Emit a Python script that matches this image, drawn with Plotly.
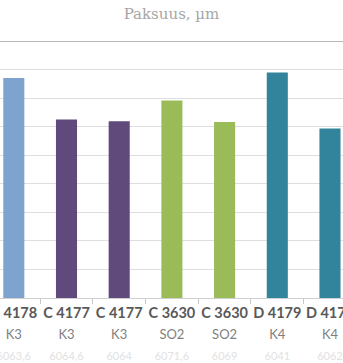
import plotly.graph_objects as go

# Sample codes, coating classes and thickness values (µm)
samples = ["C 4178", "C 4177", "C 4177", "C 3630", "C 3630", "D 4179", "D 4179"]
classes = ["K3", "K3", "K3", "SO2", "SO2", "K4", "K4"]
sample_ids = ["6063,6", "6064,6", "6064", "6071,6", "6069", "6041", "6062"]
thickness = [77.0, 62.5, 61.9, 69.2, 61.6, 79.0, 59.4]
bar_colors = ["#7ea3cf", "#604a7b", "#604a7b", "#9bbb59", "#9bbb59", "#31849b", "#31849b"]

keys = [f"{s} {c} #{i}" for i, (s, c) in enumerate(zip(samples, classes))]
tick_text = [
    f"<span style='font-size:14.5px'><b>{s}</b></span>"
    f"<br><span style='font-size:13px;color:#7f7f7f'>{c}</span>"
    f"<br><span style='font-size:11px;color:#e2e2e2'>{n}</span>"
    for s, c, n in zip(samples, classes, sample_ids)
]

fig = go.Figure(
    go.Bar(
        x=keys,
        y=thickness,
        marker=dict(color=bar_colors, line=dict(width=0)),
        width=0.4,
    )
)

fig.update_layout(
    width=343,
    height=363,
    margin=dict(l=0, r=0, t=41, b=65, autoexpand=False),
    paper_bgcolor="white",
    plot_bgcolor="white",
    showlegend=False,
    title=dict(
        text="Paksuus, µm",
        x=0.5,
        xanchor="center",
        y=0.962,
        yanchor="middle",
        font=dict(family="DejaVu Serif", size=15, color="#a6a6a6"),
    ),
    font=dict(family="Lato", color="#595959"),
    bargap=0.6,
)

fig.update_xaxes(
    type="category",
    range=[-0.262, 6.247],
    tickmode="array",
    tickvals=keys,
    ticktext=tick_text,
    tickangle=0,
    automargin=False,
    tickfont=dict(family="Lato", size=16, color="#595959"),
    ticks="outside",
    tickson="boundaries",
    ticklen=5,
    tickcolor="#c8c8c8",
    showline=True,
    linecolor="#d0d0d0",
    linewidth=1,
    showgrid=False,
    fixedrange=True,
)

fig.update_yaxes(
    range=[0, 90],
    dtick=10,
    showticklabels=False,
    showgrid=True,
    gridcolor="#dedede",
    gridwidth=1,
    zeroline=False,
    automargin=False,
    fixedrange=True,
)

# darker rule along the top of the plot area
fig.add_shape(
    type="line", xref="paper", yref="y", x0=0, x1=1, y0=90, y1=90,
    line=dict(color="#b8b8b8", width=2),
)

fig.write_html("out.html")
